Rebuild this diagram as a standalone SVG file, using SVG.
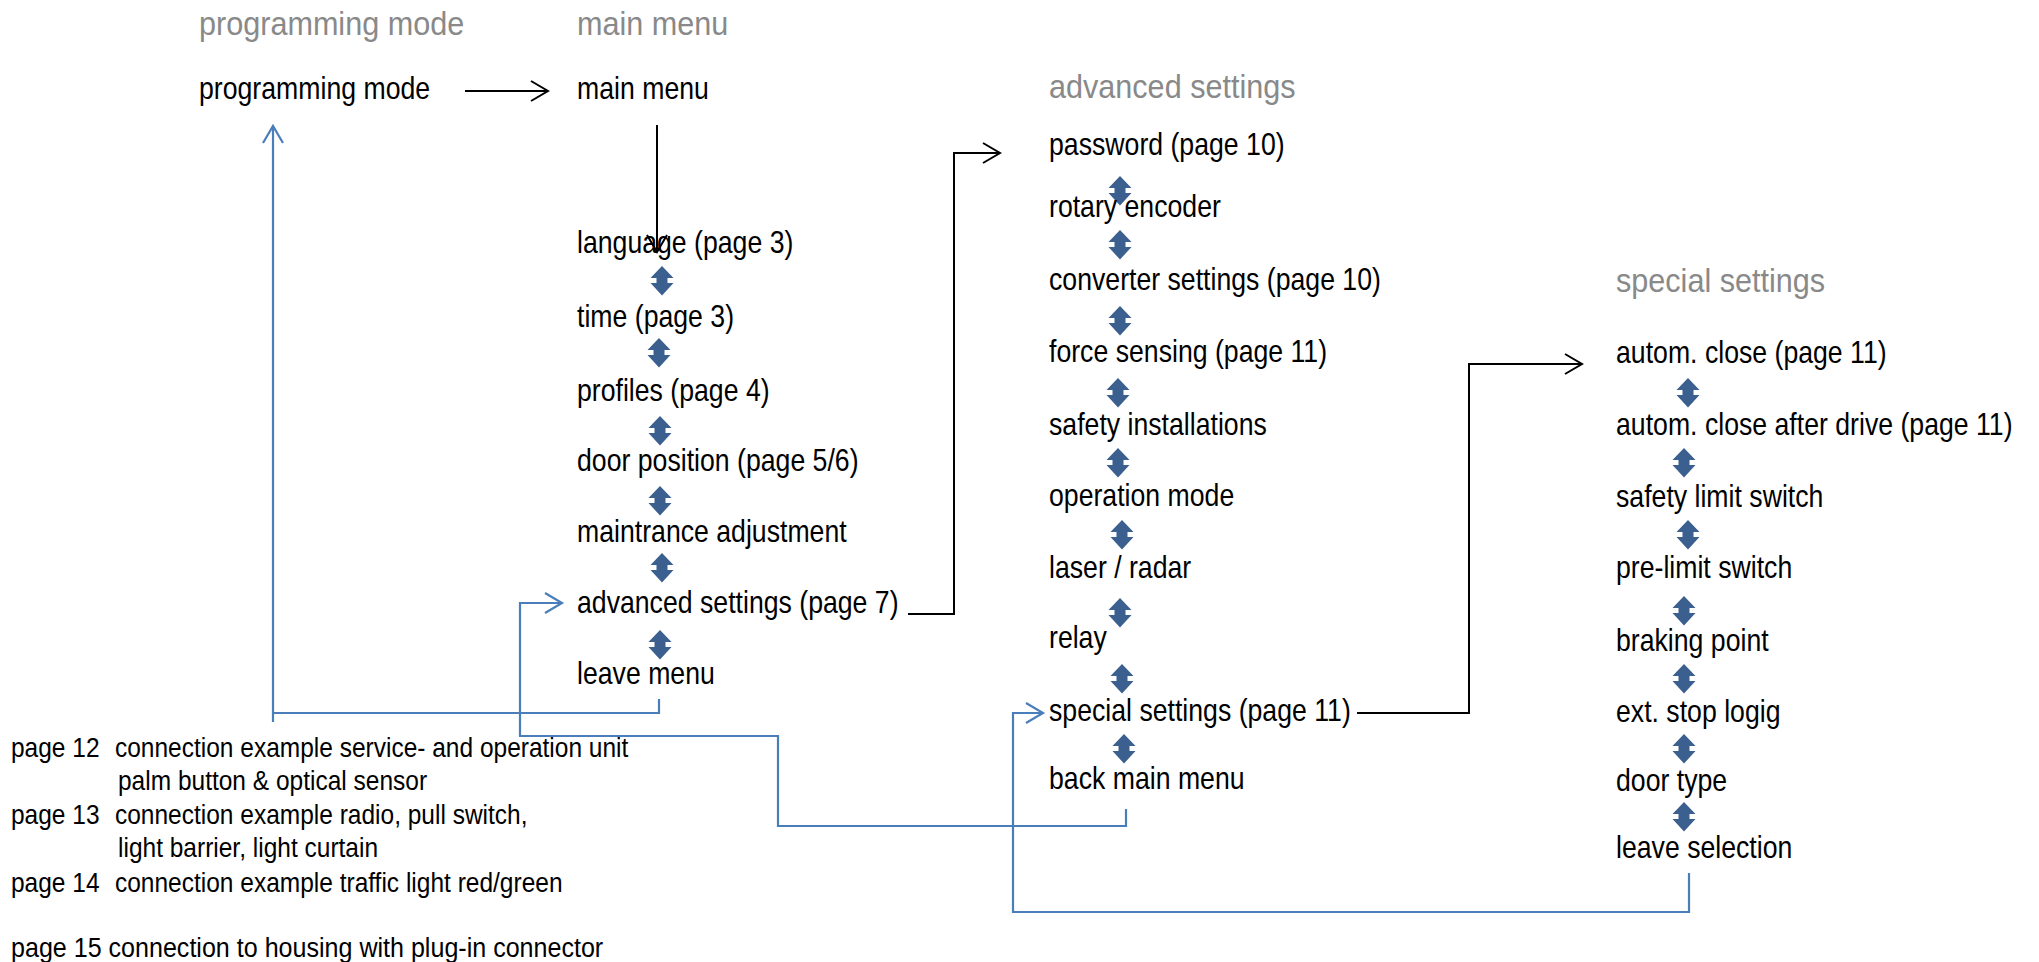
<svg xmlns="http://www.w3.org/2000/svg" xmlns:xlink="http://www.w3.org/1999/xlink" width="2039" height="962" viewBox="0 0 2039 962">
<style>
text{font-family:"Liberation Sans",Arial,sans-serif;}
.t{font-size:31px;fill:#000;}
.h{font-size:34px;fill:#898989;}
.f{font-size:28.5px;fill:#000;}
.ck{fill:none;stroke:#000;stroke-width:2;}
.cb{fill:none;stroke:#4A7EBB;stroke-width:2.2;}
.dbl{fill:#3B5F8E;}
</style>
<defs>
<marker id="ak" viewBox="-19 -12 21 24" refX="0" refY="0" markerWidth="21" markerHeight="24" orient="auto" markerUnits="userSpaceOnUse" overflow="visible">
<path d="M-17,-10 L0,0 L-17,10" fill="none" stroke="#000" stroke-width="2"/>
</marker>
<marker id="ab" viewBox="-19 -12 21 24" refX="0" refY="0" markerWidth="21" markerHeight="24" orient="auto" markerUnits="userSpaceOnUse" overflow="visible">
<path d="M-17,-10 L0,0 L-17,10" fill="none" stroke="#4A7EBB" stroke-width="2.2"/>
</marker>
<path id="dbl" d="M0,0 L11.5,12 L5.5,12 L5.5,17 L11.5,17 L0,29.5 L-11.5,17 L-5.5,17 L-5.5,12 L-11.5,12 Z"/>
</defs>
<rect width="2039" height="962" fill="#fff"/>

<g id="headers">
<g id="h-prog" transform="translate(199 35) scale(0.9 1)"><text class="h">programming mode</text></g>
<g id="h-main" transform="translate(577 35) scale(0.9 1)"><text class="h">main menu</text></g>
<g id="h-adv" transform="translate(1049 98) scale(0.9 1)"><text class="h">advanced settings</text></g>
<g id="h-special" transform="translate(1616 292) scale(0.9 1)"><text class="h">special settings</text></g>
</g>

<g id="connectors">
<path class="ck" d="M465,91 H548" marker-end="url(#ak)"/>
<path class="ck" d="M657,125 V252" marker-end="url(#ak)"/>
<path class="ck" d="M908,614 H954 V153 H1000" marker-end="url(#ak)"/>
<path class="ck" d="M1357,713 H1469 V364 H1582" marker-end="url(#ak)"/>
<path class="cb" d="M659,699 V713 H273"/>
<path class="cb" d="M273,722 V126" marker-end="url(#ab)"/>
<path class="cb" d="M1126,809 V826 H778 V736 H520 V603 H562" marker-end="url(#ab)"/>
<path class="cb" d="M1689,873 V912 H1013 V713 H1043" marker-end="url(#ab)"/>
<g class="dbl">
<use xlink:href="#dbl" x="662" y="266"/>
<use xlink:href="#dbl" x="659" y="338"/>
<use xlink:href="#dbl" x="660" y="416"/>
<use xlink:href="#dbl" x="660" y="486"/>
<use xlink:href="#dbl" x="662" y="553"/>
<use xlink:href="#dbl" x="660" y="630"/>
<use xlink:href="#dbl" x="1120" y="176"/>
<use xlink:href="#dbl" x="1120" y="230"/>
<use xlink:href="#dbl" x="1120" y="306"/>
<use xlink:href="#dbl" x="1118" y="378"/>
<use xlink:href="#dbl" x="1118" y="448"/>
<use xlink:href="#dbl" x="1122" y="520"/>
<use xlink:href="#dbl" x="1120" y="598"/>
<use xlink:href="#dbl" x="1122" y="664"/>
<use xlink:href="#dbl" x="1124" y="734"/>
<use xlink:href="#dbl" x="1688" y="378"/>
<use xlink:href="#dbl" x="1684" y="448"/>
<use xlink:href="#dbl" x="1688" y="520"/>
<use xlink:href="#dbl" x="1684" y="596"/>
<use xlink:href="#dbl" x="1684" y="664"/>
<use xlink:href="#dbl" x="1684" y="734"/>
<use xlink:href="#dbl" x="1684" y="802"/>
</g>
</g>

<g id="n-programming-mode" transform="translate(199 99) scale(0.86 1)"><text class="t">programming mode</text></g>
<g id="n-main-menu" transform="translate(577 99) scale(0.86 1)"><text class="t">main menu</text></g>
<g id="n-language" transform="translate(577 253) scale(0.86 1)"><text class="t">language (page 3)</text></g>
<g id="n-time" transform="translate(577 327) scale(0.86 1)"><text class="t">time (page 3)</text></g>
<g id="n-profiles" transform="translate(577 401) scale(0.86 1)"><text class="t">profiles (page 4)</text></g>
<g id="n-door-position" transform="translate(577 471) scale(0.86 1)"><text class="t">door position (page 5/6)</text></g>
<g id="n-maintrance" transform="translate(577 542) scale(0.86 1)"><text class="t">maintrance adjustment</text></g>
<g id="n-advanced" transform="translate(577 613) scale(0.86 1)"><text class="t">advanced settings (page 7)</text></g>
<g id="n-leave-menu" transform="translate(577 684) scale(0.86 1)"><text class="t">leave menu</text></g>

<g id="n-password" transform="translate(1049 155) scale(0.86 1)"><text class="t">password (page 10)</text></g>
<g id="n-rotary" transform="translate(1049 217) scale(0.86 1)"><text class="t">rotary encoder</text></g>
<g id="n-converter" transform="translate(1049 290) scale(0.86 1)"><text class="t">converter settings (page 10)</text></g>
<g id="n-force" transform="translate(1049 362) scale(0.86 1)"><text class="t">force sensing (page 11)</text></g>
<g id="n-safety-inst" transform="translate(1049 435) scale(0.86 1)"><text class="t">safety installations</text></g>
<g id="n-operation" transform="translate(1049 506) scale(0.86 1)"><text class="t">operation mode</text></g>
<g id="n-laser" transform="translate(1049 578) scale(0.86 1)"><text class="t">laser / radar</text></g>
<g id="n-relay" transform="translate(1049 648) scale(0.86 1)"><text class="t">relay</text></g>
<g id="n-special" transform="translate(1049 721) scale(0.86 1)"><text class="t">special settings (page 11)</text></g>
<g id="n-back" transform="translate(1049 789) scale(0.86 1)"><text class="t">back main menu</text></g>

<g id="n-autom-close" transform="translate(1616 363) scale(0.86 1)"><text class="t">autom. close (page 11)</text></g>
<g id="n-autom-close-drive" transform="translate(1616 435) scale(0.86 1)"><text class="t">autom. close after drive (page 11)</text></g>
<g id="n-safety-limit" transform="translate(1616 507) scale(0.86 1)"><text class="t">safety limit switch</text></g>
<g id="n-pre-limit" transform="translate(1616 578) scale(0.86 1)"><text class="t">pre-limit switch</text></g>
<g id="n-braking" transform="translate(1616 651) scale(0.86 1)"><text class="t">braking point</text></g>
<g id="n-ext-stop" transform="translate(1616 722) scale(0.86 1)"><text class="t">ext. stop logig</text></g>
<g id="n-door-type" transform="translate(1616 791) scale(0.86 1)"><text class="t">door type</text></g>
<g id="n-leave-selection" transform="translate(1616 858) scale(0.86 1)"><text class="t">leave selection</text></g>

<g id="notes">
<g transform="translate(11 757) scale(0.86 1)"><text class="f">page 12</text></g>
<g transform="translate(115 757) scale(0.86 1)"><text class="f">connection example service- and operation unit</text></g>
<g transform="translate(118 790) scale(0.86 1)"><text class="f">palm button &amp; optical sensor</text></g>
<g transform="translate(11 824) scale(0.86 1)"><text class="f">page 13</text></g>
<g transform="translate(115 824) scale(0.86 1)"><text class="f">connection example radio, pull switch,</text></g>
<g transform="translate(118 857) scale(0.86 1)"><text class="f">light barrier, light curtain</text></g>
<g transform="translate(11 892) scale(0.86 1)"><text class="f">page 14</text></g>
<g transform="translate(115 892) scale(0.86 1)"><text class="f">connection example traffic light red/green</text></g>
<g transform="translate(11 957) scale(0.88 1)"><text class="f">page 15 connection to housing with plug-in connector</text></g>
</g>
</svg>
